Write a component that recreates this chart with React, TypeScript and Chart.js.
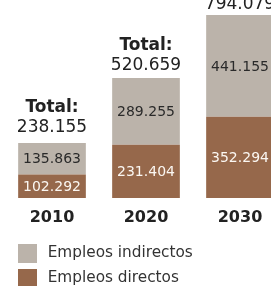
import { useEffect, useRef } from "react";
import { Chart, registerables } from "chart.js";

Chart.register(...registerables);

const years = [2010, 2020, 2030];
const indirectos = [135863, 289255, 441155];
const directos = [102292, 231404, 352294];
const totals = [238155, 520659, 794079];
const seriesLabels = ["Empleos indirectos", "Empleos directos"];
const totalLabel = "Total:";

const FONT = "'DejaVu Sans', Verdana, sans-serif";
const GREY = "#bbb3aa";
const BROWN = "#96684b";

const fmt = (n: number) => String(n).replace(/\B(?=(\d{3})+(?!\d))/g, ".");

const labelsPlugin = {
  id: "barLabels",
  afterDatasetsDraw(chart: any) {
    const ctx = chart.ctx;
    ctx.save();
    ctx.textAlign = "center";
    chart.data.datasets.forEach((ds: any, di: number) => {
      const meta = chart.getDatasetMeta(di);
      meta.data.forEach((bar: any, i: number) => {
        const { x, y, base } = bar.getProps(["x", "y", "base"], true);
        ctx.fillStyle = di === 0 ? "#fbf7f2" : "#2a2a2a";
        ctx.font = `14px ${FONT}`;
        ctx.textBaseline = "middle";
        ctx.fillText(fmt(ds.data[i].y), x, (y + base) / 2 + 1);
      });
    });
    const topMeta = chart.getDatasetMeta(chart.data.datasets.length - 1);
    const bottomMeta = chart.getDatasetMeta(0);
    topMeta.data.forEach((bar: any, i: number) => {
      const { x, y } = bar.getProps(["x", "y"], true);
      const { base } = bottomMeta.data[i].getProps(["base"], true);
      const gap = 13.1 - 0.039 * (base - y);
      ctx.fillStyle = "#222";
      ctx.textBaseline = "alphabetic";
      ctx.font = `17px ${FONT}`;
      ctx.fillText(fmt(totals[i]), x, y - gap);
      ctx.font = `bold 17px ${FONT}`;
      ctx.fillText(totalLabel, x, y - gap - 20);
    });
    ctx.restore();
  },
};

export default function App() {
  const ref = useRef<HTMLCanvasElement | null>(null);
  useEffect(() => {
    if (!ref.current) return;
    const chart = new Chart(ref.current, {
      type: "bar",
      data: {
        datasets: [
          {
            label: seriesLabels[1],
            data: years.map((x, i) => ({ x, y: directos[i] })),
            backgroundColor: BROWN,
            stack: "s",
          },
          {
            label: seriesLabels[0],
            data: years.map((x, i) => ({ x, y: indirectos[i] })),
            backgroundColor: GREY,
            stack: "s",
          },
        ],
      },
      options: {
        animation: false,
        responsive: false,
        maintainAspectRatio: false,
        layout: { padding: { left: 12, top: 2, right: 0, bottom: 2 } },
        plugins: {
          tooltip: { enabled: false },
          legend: {
            position: "bottom",
            align: "start",
            reverse: true,
            labels: {
              boxWidth: 19,
              boxHeight: 19,
              padding: 6,
              color: "#333",
              font: { family: FONT, size: 15.3 },
              generateLabels: (c: any) =>
                Chart.defaults.plugins.legend.labels
                  .generateLabels(c)
                  .map((l: any) => ({ ...l, text: "\u2009" + l.text })),
            },
          },
        },
        scales: {
          x: {
            type: "linear",
            stacked: true,
            offset: false,
            bounds: "data",
            min: 2005.7447,
            max: 2035.3191,
            afterBuildTicks: (s: any) => {
              s.ticks = years.map((v) => ({ value: v }));
            },
            afterFit: (s: any) => {
              s.height = 40;
            },
            grid: { display: false, offset: false },
            border: { display: false },
            ticks: {
              autoSkip: false,
              maxRotation: 0,
              padding: 2,
              color: "#222",
              font: { family: FONT, size: 16, weight: "bold" },
              callback: (v: any) => String(v),
            },
          },
          y: {
            stacked: true,
            display: false,
            min: 0,
            max: 850000,
          },
        },
      },
      plugins: [labelsPlugin],
    } as any);
    return () => chart.destroy();
  }, []);
  return (
    <div style={{ position: "absolute", left: 0, top: 0, width: 290, height: 300, background: "#fff" }}>
      <canvas ref={ref} width={290} height={300} style={{ display: "block" }} />
    </div>
  );
}
